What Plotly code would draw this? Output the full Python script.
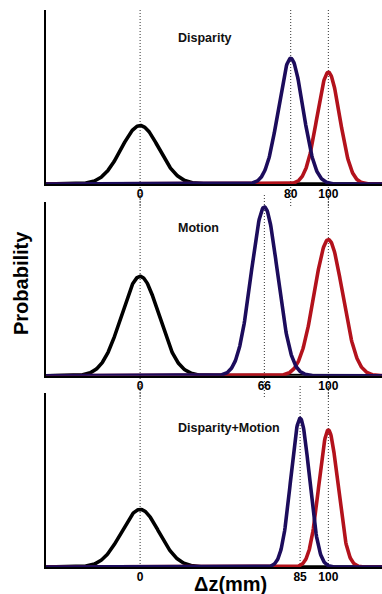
import numpy as np
import plotly.graph_objects as go

# ---- data ----
panel_titles = ["Disparity", "Motion", "Disparity+Motion"]
black_means = [0, 0, 0]
black_sigmas = [10, 10, 10]
black_peaks = [0.336, 0.573, 0.331]
blue_means = [80, 66, 85]
blue_sigmas = [6.5, 7.0, 4.9]
blue_peaks = [0.722, 0.973, 0.854]
red_means = [100, 100, 100]
red_sigmas = [6.0, 7.5, 5.0]
red_peaks = [0.642, 0.785, 0.787]
tick_values = [[0, 80, 100], [0, 66, 100], [0, 85, 100]]

W, H = 382, 594
BLACK = "#000000"
NAVY = "#1c0c5c"
RED = "#b3121c"
FONT = "Liberation Sans, Arial, sans-serif"

# panel pixel geometry (top, baseline)
panels_px = [(10, 184), (202.3, 375.7), (393, 567)]
dotted_px = [(10, 206), (193, 397), (385, 567)]
title_y_px = [38, 228.3, 427.7]

x_grid = np.linspace(-50, 130, 721)


def gauss(x, mu, sig, peak):
    return peak * np.exp(-0.5 * ((x - mu) / sig) ** 2)


fig = go.Figure()
layout = dict(
    width=W, height=H,
    margin=dict(l=0, r=0, t=0, b=0),
    paper_bgcolor="white", plot_bgcolor="white",
    showlegend=False,
    font=dict(family=FONT, color="black"),
    shapes=[], annotations=[],
)

xdom = [46 / W, 1.0]
for i in range(3):
    top, base = panels_px[i]
    ax = "" if i == 0 else str(i + 1)
    xa, ya = "x" + ax, "y" + ax
    for mu, sig, pk, col in [
        (black_means[i], black_sigmas[i], black_peaks[i], BLACK),
        (red_means[i], red_sigmas[i], red_peaks[i], RED),
        (blue_means[i], blue_sigmas[i], blue_peaks[i], NAVY),
    ]:
        fig.add_trace(go.Scatter(
            x=x_grid, y=gauss(x_grid, mu, sig, pk), mode="lines",
            line=dict(color=col, width=3.6), xaxis=xa, yaxis=ya,
            hoverinfo="skip", cliponaxis=False,
        ))
    layout["xaxis" + ax] = dict(
        domain=xdom, range=[-50, 128.5], anchor=ya,
        showgrid=False, zeroline=False,
        showline=True, linecolor="black", linewidth=2,
        ticks="", tickvals=tick_values[i],
        ticktext=["<b>%d</b>" % v for v in tick_values[i]],
        tickfont=dict(family=FONT, size=12, color="black"),
        ticklabelstandoff=-2,
    )
    layout["yaxis" + ax] = dict(
        domain=[1 - base / H, 1 - top / H], range=[0, 1], anchor=xa,
        showgrid=False, zeroline=False, showticklabels=False, ticks="",
        showline=True, linecolor="black", linewidth=2,
    )
    d0, d1 = dotted_px[i]
    for v in tick_values[i]:
        layout["shapes"].append(dict(
            type="line", xref=xa, yref="paper", x0=v, x1=v,
            y0=1 - d1 / H, y1=1 - d0 / H,
            line=dict(color="#333333", width=1, dash="1px,2px"), layer="below",
        ))
    layout["annotations"].append(dict(
        text="<b>%s</b>" % panel_titles[i], xref="paper", yref="paper",
        x=176 / W, y=1 - title_y_px[i] / H, xanchor="left", yanchor="middle",
        showarrow=False, font=dict(family=FONT, size=12.5, color="#111111"),
    ))

layout["annotations"].append(dict(
    text="<b>Probability</b>", xref="paper", yref="paper", x=21 / W, y=1 - 283 / H,
    xanchor="center", yanchor="middle", textangle=-90, showarrow=False,
    font=dict(family=FONT, size=20, color="black"),
))
layout["annotations"].append(dict(
    text="<b>\u0394z(mm)</b>", xref="paper", yref="paper", x=230 / W, y=1 - 584 / H,
    xanchor="center", yanchor="middle", showarrow=False,
    font=dict(family=FONT, size=20, color="black"),
))

fig.update_layout(**layout)
fig.write_html("out.html")
